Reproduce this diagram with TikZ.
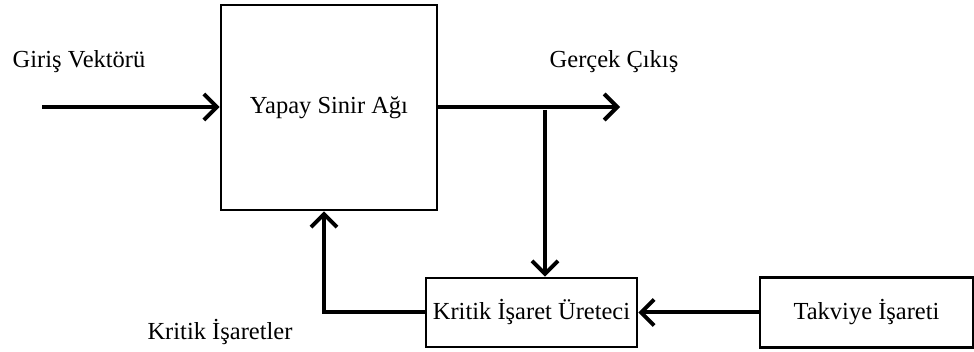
\documentclass[tikz,border=0pt]{standalone}
\usepackage{fontspec}
\setmainfont{Liberation Serif}
\usetikzlibrary{arrows.meta}
\begin{document}
\begin{tikzpicture}[x=1pt,y=-1pt,
  blk/.style={draw,line width=2.6pt,inner sep=0pt,font=\fontsize{24.5}{28}\selectfont},
  lbl/.style={inner sep=0pt,font=\fontsize{24.5}{28}\selectfont},
  conn/.style={line width=4pt,-{Straight Barb[length=13pt,width=26pt,line width=4pt]}}]
\useasboundingbox (0,0) rectangle (974,352);
\node[blk,minimum width=216,minimum height=205] (ysa) at (329,107.5) {Yapay Sinir Ağı};
\node[blk,minimum width=211,minimum height=69] (kiu) at (531.5,312.5) {Kritik İşaret Üreteci};
\node[blk,minimum width=213,minimum height=70] (ti) at (866.5,312.5) {Takviye İşareti};
\node[lbl] (giris) at (79,62) {Giriş Vektörü};
\node[lbl] (cikis) at (614,62) {Gerçek Çıkış};
\node[lbl] (kis) at (220,332) {Kritik İşaretler};
\coordinate (in) at (42,107);
\coordinate (out) at (620,107);
\coordinate (br) at (545,110);
\draw[conn] (in) -- (in -| ysa.west);
\draw[conn] (ysa.east |- out) -- (out);
\draw[conn] (br) -- (br |- kiu.north);
\draw[conn] (ti.west) -- (kiu.east);
\draw[conn] (kiu.west) -| (324,0 |- ysa.south);
\end{tikzpicture}
\end{document}
